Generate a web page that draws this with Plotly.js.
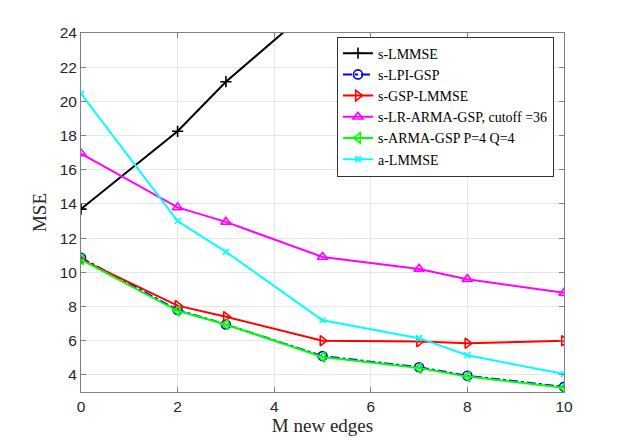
<!DOCTYPE html>
<html>
<head>
<meta charset="utf-8">
<script src="https://cdn.plot.ly/plotly-3.0.1.min.js"></script>
<style>html,body{margin:0;padding:0;background:#fff;}#chart{width:623px;height:441px;}</style>
</head>
<body>
<div id="chart"></div>
<script>
var edges = [0, 2, 3, 5, 7, 8, 10];
var sLMMSE = [13.7, 18.25, 21.15, 26.0, 30.5, 33.0, 38.0];
var sLPIGSP = [10.85, 7.8, 6.95, 5.1, 4.45, 3.95, 3.3];
var sGSPLMMSE = [10.75, 8.05, 7.4, 6.0, 5.95, 5.85, 6.0];
var sLRARMA = [16.95, 13.8, 12.95, 10.9, 10.2, 9.6, 8.8];
var sARMA = [10.75, 7.75, 6.95, 5.05, 4.4, 3.9, 3.25];
var aLMMSE = [20.45, 13.0, 11.2, 7.2, 6.15, 5.15, 4.05];
var yTicks = [4, 6, 8, 10, 12, 14, 16, 18, 20, 22, 24];
var xTicks = [0, 2, 4, 6, 8, 10];

function tr(name, y, color, symbol, dash, size) {
  return {
    x: edges, y: y, name: name, type: 'scatter', mode: 'lines+markers',
    line: {color: color, width: 2, dash: dash || 'solid'},
    marker: {symbol: symbol, size: size || 9, color: color, line: {color: color, width: 1.6}},
    cliponaxis: true
  };
}
var data = [
  tr('s-LMMSE', sLMMSE, '#000000', 'cross-thin-open', null, 8),
  tr('s-LPI-GSP', sLPIGSP, '#0000ff', 'circle-open', 'dashdot', 9),
  tr('s-GSP-LMMSE', sGSPLMMSE, '#ff0000', 'triangle-right-open', null, 9),
  tr('s-LR-ARMA-GSP, cutoff =36', sLRARMA, '#ff00ff', 'triangle-up-open', null, 9),
  tr('s-ARMA-GSP P=4 Q=4', sARMA, '#00ff00', 'triangle-left-open', null, 9),
  tr('a-LMMSE', aLMMSE, '#00ffff', 'x-thin-open', null, 6)
];
var axisCommon = {
  showline: true, linecolor: '#808080', linewidth: 1, mirror: 'ticks',
  ticks: 'inside', ticklen: 5, tickcolor: '#808080', tickwidth: 1,
  showgrid: true, gridcolor: '#e6e6e6', gridwidth: 1, zeroline: false,
  tickfont: {family: 'Liberation Sans, Arial, sans-serif', size: 15.5, color: '#262626'}
};
var layout = {
  width: 623, height: 441,
  margin: {l: 81, r: 59, t: 33, b: 49},
  paper_bgcolor: '#fff', plot_bgcolor: '#fff',
  showlegend: true,
  xaxis: Object.assign({}, axisCommon, {
    range: [0, 10], tickvals: xTicks,
    title: {text: 'M new edges', font: {family: 'Liberation Serif, DejaVu Serif, serif', size: 19, color: '#262626'}, standoff: 4}
  }),
  yaxis: Object.assign({}, axisCommon, {
    range: [3, 24], tickvals: yTicks,
    title: {text: 'MSE', font: {family: 'Liberation Serif, DejaVu Serif, serif', size: 19, color: '#262626'}, standoff: 8}
  }),
  legend: {
    x: 0.53, y: 0.99, xanchor: 'left', yanchor: 'top',
    bgcolor: '#fff', bordercolor: '#333', borderwidth: 1,
    font: {family: 'Liberation Serif, DejaVu Serif, serif', size: 14, color: '#000'},
    tracegroupgap: 0, itemwidth: 30
  }
};
Plotly.newPlot('chart', data, layout, {displayModeBar: false, staticPlot: true});
</script>
</body>
</html>
